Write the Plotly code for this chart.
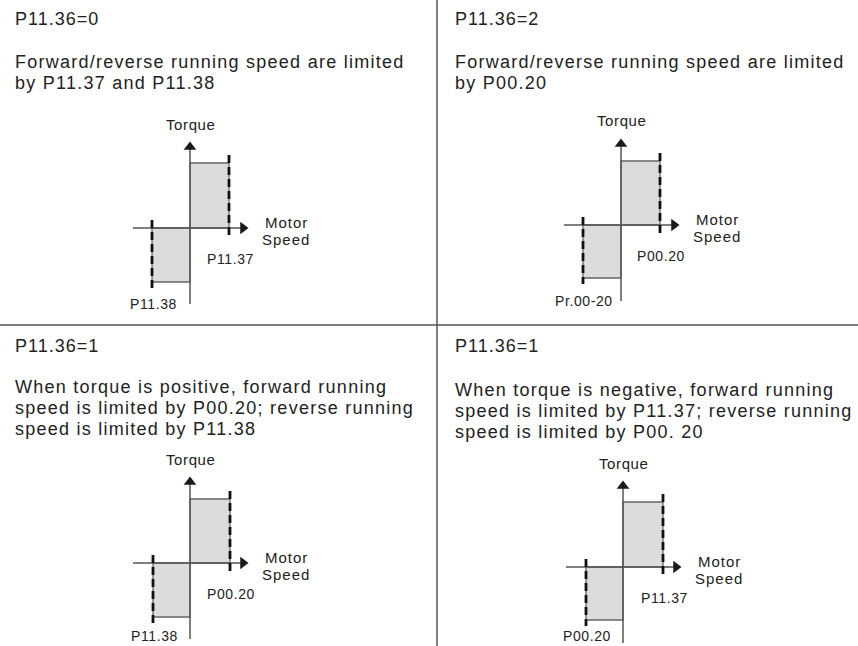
import plotly.graph_objects as go

# ---------------- data ----------------
panel_titles = ["P11.36=0", "P11.36=2", "P11.36=1", "P11.36=1"]
panel_desc = [
    ["Forward/reverse running speed are limited", "by P11.37 and P11.38"],
    ["Forward/reverse running speed are limited", "by P00.20"],
    ["When torque is positive, forward running",
     "speed is limited by P00.20; reverse running",
     "speed is limited by P11.38"],
    ["When torque is negative, forward running",
     "speed is limited by P11.37; reverse running",
     "speed is limited by P00. 20"],
]
fwd_labels = ["P11.37", "P00.20", "P00.20", "P11.37"]
rev_labels = ["P11.38", "Pr.00-20", "P11.38", "P00.20"]
# speed / torque limits (diagram units)
fwd_limit = [39, 39, 40, 40]
rev_limit = [-38, -38, -37, -37]
torque_pos = [65, 64, 64, 65]
torque_neg = [-54, -53, -54, -53]
axis_x_label = ["Motor", "Speed"]
axis_y_label = "Torque"

# ---------------- layout constants ----------------
W, H = 858, 646
origins = [(190, 228), (621, 225), (190, 563), (623, 567)]
text_left = [13, 453, 13, 453]
title_base = [25, 25, 352, 352]
desc_base = [68, 68, 393, 396]
line_step = 21
XR = (-80, 125)
Y_TOP = 115
FONT = "Liberation Sans, Arial, Helvetica, sans-serif"
TXT = "#222222"
GRAY = "#666666"


def spaced(s, ls):
    return f'<span style="letter-spacing:{ls}px">{s}</span>'


fig = go.Figure()
annotations = []
layout_axes = {}

for i in range(4):
    ox, oy = origins[i]
    y_bot = -min(80, H - oy)
    n = "" if i == 0 else str(i + 1)
    xa, ya = "x" + n, "y" + n
    layout_axes["xaxis" + n] = dict(
        domain=[(ox + XR[0]) / W, (ox + XR[1]) / W], range=list(XR),
        visible=False, fixedrange=True, anchor=ya)
    layout_axes["yaxis" + n] = dict(
        domain=[(H - (oy - y_bot)) / H, (H - (oy - Y_TOP)) / H], range=[y_bot, Y_TOP],
        visible=False, fixedrange=True, anchor=xa)

    f, r, tp, tn = fwd_limit[i], rev_limit[i], torque_pos[i], torque_neg[i]
    # shaded regions
    fig.add_trace(go.Scatter(
        x=[0, f, f, 0, 0], y=[0, 0, tp, tp, 0], mode="lines", fill="toself",
        fillcolor="#dcdcdc", line=dict(color=GRAY, width=1.3),
        xaxis=xa, yaxis=ya, hoverinfo="skip"))
    fig.add_trace(go.Scatter(
        x=[r, 0, 0, r, r], y=[0, 0, tn, tn, 0], mode="lines", fill="toself",
        fillcolor="#dcdcdc", line=dict(color=GRAY, width=1.3),
        xaxis=xa, yaxis=ya, hoverinfo="skip"))
    # axes
    fig.add_trace(go.Scatter(
        x=[-57, 54], y=[0, 0], mode="lines", line=dict(color="#555555", width=1.5),
        xaxis=xa, yaxis=ya, hoverinfo="skip"))
    fig.add_trace(go.Scatter(
        x=[0, 0], y=[-76, 82], mode="lines", line=dict(color="#555555", width=1.5),
        xaxis=xa, yaxis=ya, hoverinfo="skip"))
    # arrow heads
    fig.add_trace(go.Scatter(
        x=[53], y=[0], mode="markers", cliponaxis=False,
        marker=dict(symbol="triangle-right", size=11, color="#1a1a1a", line=dict(width=0)),
        xaxis=xa, yaxis=ya, hoverinfo="skip"))
    fig.add_trace(go.Scatter(
        x=[0], y=[81], mode="markers", cliponaxis=False,
        marker=dict(symbol="triangle-up", size=11, color="#1a1a1a", line=dict(width=0)),
        xaxis=xa, yaxis=ya, hoverinfo="skip"))
    # dashed limit lines
    fig.add_trace(go.Scatter(
        x=[f, f], y=[tp + 8, -9], mode="lines",
        line=dict(color="#111111", width=2.8, dash="8px,4px"),
        xaxis=xa, yaxis=ya, hoverinfo="skip"))
    fig.add_trace(go.Scatter(
        x=[r, r], y=[8, tn - 6], mode="lines",
        line=dict(color="#111111", width=2.8, dash="8px,4px"),
        xaxis=xa, yaxis=ya, hoverinfo="skip"))

    lab_font = dict(family=FONT, size=15, color=TXT)
    small_font = dict(family=FONT, size=14, color=TXT)
    rev_off = -min(76, H - oy - 10)
    annotations += [
        dict(x=0, y=104, xref=xa, yref=ya, text=spaced(axis_y_label, 0.6),
             showarrow=False, font=lab_font, xanchor="center", yanchor="middle"),
        dict(x=96, y=6, xref=xa, yref=ya, text=spaced(axis_x_label[0], 1.0),
             showarrow=False, font=lab_font, xanchor="center", yanchor="middle"),
        dict(x=96, y=-11, xref=xa, yref=ya, text=spaced(axis_x_label[1], 1.0),
             showarrow=False, font=lab_font, xanchor="center", yanchor="middle"),
        dict(x=f + 1, y=-31, xref=xa, yref=ya, text=spaced(fwd_labels[i], 0.6),
             showarrow=False, font=small_font, xanchor="center", yanchor="middle"),
        dict(x=r + 1, y=rev_off, xref=xa, yref=ya, text=spaced(rev_labels[i], 0.6),
             showarrow=False, font=small_font, xanchor="center", yanchor="middle"),
    ]

    # titles and descriptions
    big = dict(family=FONT, size=18, color=TXT)
    annotations.append(dict(
        x=text_left[i] / W, y=1 - (title_base[i] - 0.35 * 18) / H,
        xref="paper", yref="paper", text=spaced(panel_titles[i], 1.0),
        showarrow=False, font=big, xanchor="left", yanchor="middle"))
    for k, line in enumerate(panel_desc[i]):
        yb = desc_base[i] + k * line_step
        annotations.append(dict(
            x=text_left[i] / W, y=1 - (yb - 0.35 * 18) / H,
            xref="paper", yref="paper", text=spaced(line, 1.25),
            showarrow=False, font=big, xanchor="left", yanchor="middle"))

shapes = [
    dict(type="line", xref="paper", yref="paper", x0=0, x1=1,
         y0=1 - 325 / H, y1=1 - 325 / H, line=dict(color="#555555", width=1.5)),
    dict(type="line", xref="paper", yref="paper", x0=437 / W, x1=437 / W,
         y0=0, y1=1, line=dict(color="#555555", width=1.5)),
]

fig.update_layout(
    width=W, height=H, margin=dict(l=0, r=0, t=0, b=0),
    paper_bgcolor="white", plot_bgcolor="rgba(0,0,0,0)",
    showlegend=False, annotations=annotations, shapes=shapes,
    **layout_axes)

fig.write_html("out.html", config={"displayModeBar": False},
               post_script="document.body.style.margin='0';")
